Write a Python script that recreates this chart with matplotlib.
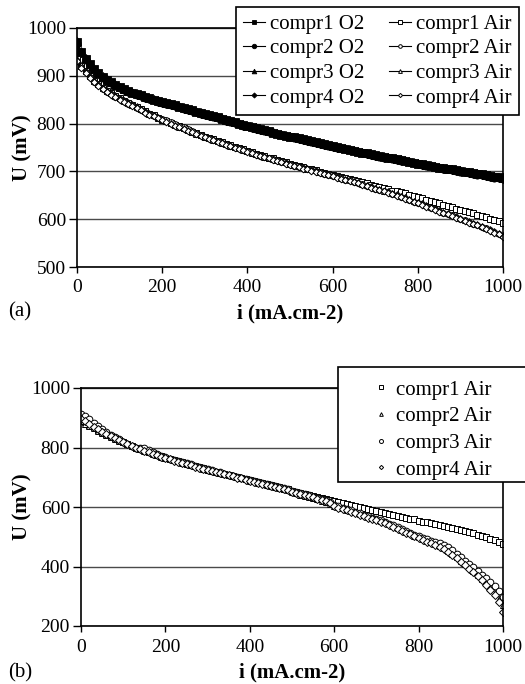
import matplotlib
matplotlib.use("Agg")
import matplotlib.pyplot as plt
from matplotlib.patches import Rectangle

plt.rcParams['font.family'] = ['Liberation Serif', 'DejaVu Serif']

# current density grid (mA.cm-2)
current = list(range(0, 1001, 10))

# ---- panel (a) : O2 ----
compr1_O2_a = [970,950,936,924,914,905,898,892,886,880,
               876,872,868,865,862,859,856,853,850,848,
               845,843,840,838,835,833,830,828,825,823,
               820,818,815,813,810,808,805,803,800,797,
               795,793,790,788,786,784,781,779,777,775,
               773,771,769,767,765,763,761,759,757,755,
               753,751,749,747,745,743,741,739,738,736,
               734,732,731,729,727,725,723,722,720,718,
               716,715,713,711,710,708,707,705,704,702,
               701,699,698,696,695,694,692,691,689,688,686]
compr2_O2_a = [968,947,934,922,912,903,896,890,884,879,
               874,870,866,863,860,857,854,851,849,846,
               844,841,839,836,834,831,829,826,824,821,
               819,816,814,811,809,806,804,801,799,796,
               794,791,789,787,785,782,780,778,776,774,
               772,770,768,766,764,762,760,758,756,754,
               752,750,748,746,744,742,740,738,736,735,
               733,731,729,728,726,724,722,721,719,717,
               716,714,712,711,709,707,706,704,702,701,
               699,698,696,695,693,692,690,689,687,686,684]
compr3_O2_a = [972,951,937,925,915,906,899,893,887,882,
               877,873,869,866,863,860,857,854,851,849,
               846,844,841,839,836,834,831,829,826,824,
               821,819,816,814,811,809,806,804,801,799,
               796,794,792,789,787,785,782,780,778,776,
               774,772,770,768,766,764,762,760,758,756,
               754,752,750,748,746,744,742,740,739,737,
               735,733,732,730,728,726,725,723,721,719,
               718,716,714,713,711,710,708,706,705,703,
               702,700,699,697,696,695,693,692,690,689,688]
compr4_O2_a = [965,948,935,923,913,904,897,891,885,880,
               875,871,867,864,861,858,855,852,850,847,
               845,842,840,837,835,832,830,827,825,822,
               820,817,815,812,810,807,805,802,800,798,
               795,793,791,788,786,784,782,779,777,775,
               773,771,769,767,765,763,761,759,757,755,
               753,751,749,747,745,743,741,739,737,735,
               734,732,730,728,727,725,723,721,720,718,
               716,714,713,711,709,708,706,705,703,702,
               700,699,697,696,694,693,691,690,688,687,685]

# ---- panel (a) : Air ----
compr1_Air_a = [935,921,909,899,890,882,875,869,863,858,
                853,848,844,839,835,830,826,821,817,812,
                808,805,801,797,794,790,787,783,780,776,
                773,770,767,764,761,758,755,752,749,746,
                743,740,737,735,732,729,727,724,721,719,
                716,714,711,709,706,704,702,699,697,694,
                692,690,688,686,684,682,679,677,675,672,
                670,668,665,663,660,658,656,654,651,649,
                647,644,641,639,636,633,630,628,625,622,
                620,617,615,612,609,607,604,601,599,596,593]
compr2_Air_a = [932,919,907,897,888,880,873,867,861,856,
                851,847,842,838,833,829,824,820,816,812,
                809,807,804,800,796,792,788,784,780,777,
                773,770,766,763,760,757,754,751,748,745,
                742,739,736,733,731,728,725,723,720,717,
                715,712,710,707,705,702,700,698,695,693,
                691,688,686,683,681,678,676,673,670,667,
                664,662,659,656,653,650,647,644,641,637,
                634,631,627,624,621,618,614,611,608,604,
                601,598,594,591,588,584,581,577,573,569,564]
compr3_Air_a = [936,922,910,900,891,883,876,870,864,859,
                854,849,845,840,836,831,827,822,818,813,
                809,805,801,797,793,790,786,783,779,776,
                772,769,766,763,760,757,754,751,748,745,
                742,739,737,734,731,729,726,724,721,719,
                716,714,711,709,707,704,702,699,697,695,
                692,690,687,685,682,680,677,674,672,669,
                666,663,660,658,655,652,649,646,643,639,
                636,633,629,626,623,619,616,613,609,606,
                603,599,596,593,589,586,582,579,575,571,566]
compr4_Air_a = [930,917,906,896,887,879,872,866,860,855,
                850,846,841,837,832,828,823,819,815,811,
                807,803,800,796,792,789,785,782,778,775,
                772,768,765,762,759,756,753,750,747,744,
                741,738,735,732,730,727,724,722,719,716,
                714,711,709,706,704,701,699,697,694,692,
                690,687,685,682,680,677,675,672,669,666,
                663,661,658,655,652,649,646,643,640,636,
                633,630,626,623,620,616,613,610,606,603,
                600,597,593,590,587,583,580,576,572,568,562]

# ---- panel (b) : Air ----
compr1_Air_b = [893,885,876,868,860,852,845,838,831,825,
                818,812,806,800,795,790,785,780,775,770,
                766,762,758,754,750,746,742,738,734,730,
                726,722,719,715,712,708,705,701,698,694,
                690,687,683,680,676,673,669,666,662,659,
                655,652,648,645,641,638,634,631,627,624,
                620,617,613,610,606,603,600,597,593,590,
                586,583,580,577,574,570,567,564,561,558,
                554,551,548,545,542,539,536,532,529,526,
                522,519,515,511,507,503,499,494,489,483,476]
compr2_Air_b = [888,880,872,864,857,850,843,836,830,823,
                817,811,805,799,794,789,784,779,774,769,
                765,761,757,753,749,745,741,737,733,729,
                725,721,718,714,711,707,704,700,697,693,
                689,686,682,679,675,672,668,665,661,658,
                650,646,642,638,634,630,626,621,617,611,
                605,600,596,591,587,582,577,572,567,563,
                558,553,548,542,536,530,524,517,511,504,
                498,493,487,482,476,470,462,453,443,432,
                420,409,398,386,373,359,345,329,311,292,270]
compr3_Air_b = [912,905,895,884,872,861,851,842,834,827,
                820,813,806,800,797,798,792,785,778,772,
                767,763,759,755,751,747,743,739,735,731,
                727,723,719,716,712,709,705,702,698,695,
                691,687,684,680,677,673,670,666,663,659,
                655,651,647,643,639,635,631,627,622,618,
                608,603,598,594,589,584,579,574,569,564,
                560,555,550,544,538,532,526,519,513,507,
                501,496,491,486,481,478,473,464,454,443,
                431,420,409,398,386,373,360,347,333,318,296]
compr4_Air_b = [895,888,879,870,861,853,845,838,831,824,
                817,811,805,799,794,789,784,779,774,769,
                765,760,756,752,748,744,740,736,732,728,
                724,720,717,713,710,706,703,699,696,692,
                688,684,681,677,674,670,667,663,660,656,
                652,648,644,640,636,632,627,623,619,614,
                602,598,593,589,584,579,574,569,564,560,
                555,550,545,539,533,527,521,514,508,501,
                495,489,484,478,472,466,458,449,439,428,
                416,405,393,381,368,354,339,322,303,280,248]

labels_O2_a = ['compr1 O2', 'compr2 O2', 'compr3 O2', 'compr4 O2']
labels_Air_a = ['compr1 Air', 'compr2 Air', 'compr3 Air', 'compr4 Air']
labels_Air_b = ['compr1 Air', 'compr2 Air', 'compr3 Air', 'compr4 Air']

xticks = [0, 200, 400, 600, 800, 1000]
yticks_a = [500, 600, 700, 800, 900, 1000]
yticks_b = [200, 400, 600, 800, 1000]

W, H = 525, 684
fig = plt.figure(figsize=(W / 100, H / 100), dpi=100)
ax1 = fig.add_axes([77 / W, 1 - 267 / H, 426 / W, 239 / H])
ax2 = fig.add_axes([81 / W, 1 - 626 / H, 422 / W, 238 / H])

FS = 14
LFS = 15.0

def style(ax, yticks, ylim, left_px):
    ax.set_xlim(0, 1000)
    ax.set_ylim(*ylim)
    ax.set_xticks(xticks)
    ax.set_yticks(yticks)
    ax.yaxis.grid(True, color='#4a4a4a', lw=1.0)
    ax.set_axisbelow(True)
    for s in ax.spines.values():
        s.set_color('black')
        s.set_linewidth(1.2)
    ax.tick_params(axis='x', direction='out', length=4, width=1, labelsize=FS, pad=5)
    ax.tick_params(axis='y', direction='out', length=6, width=1, labelsize=FS, pad=2)
    ax.set_xlabel('i (mA.cm-2)', fontsize=FS + 1, fontweight='bold', labelpad=5)
    ax.set_ylabel('U (mV)', fontsize=FS + 1, fontweight='bold')
    width_px = ax.get_position().width * W
    ax.yaxis.set_label_coords((32 - left_px) / width_px, 0.5)

# panel (a)
o2_series = [compr1_O2_a, compr2_O2_a, compr3_O2_a, compr4_O2_a]
air_series = [compr1_Air_a, compr2_Air_a, compr3_Air_a, compr4_Air_a]
mk_a = ['s', 'o', '^', 'D']
ms_o2 = [5.2, 5.2, 5.4, 4.2]
ms_air = [4.2, 4.2, 4.4, 3.4]
handles_a = []
for ys, lab, m, ms in zip(o2_series, labels_O2_a, mk_a, ms_o2):
    h, = ax1.plot(current, ys, color='black', lw=0.8, marker=m, ms=ms,
                  mfc='black', mec='black', mew=0.6, label=lab)
    handles_a.append(h)
for ys, lab, m, ms in zip(air_series, labels_Air_a, mk_a, ms_air):
    h, = ax1.plot(current, ys, color='black', lw=0.8, marker=m, ms=ms,
                  mfc='white', mec='black', mew=0.7, label=lab)
    handles_a.append(h)
style(ax1, yticks_a, (500, 1000), 77)

leg1 = ax1.legend(handles=handles_a, ncol=2, loc='upper left',
                  bbox_to_anchor=(236 / W, 1 - 7 / H), bbox_transform=fig.transFigure,
                  fontsize=LFS, frameon=True, fancybox=False, edgecolor='black',
                  handlelength=1.05, handletextpad=0.25, columnspacing=1.15,
                  labelspacing=0.24, borderpad=0.35, borderaxespad=0, markerscale=0.62)
leg1.get_frame().set_linewidth(1.2)
leg1.get_frame().set_alpha(1)

# panel (b)
air_b = [compr1_Air_b, compr2_Air_b, compr3_Air_b, compr4_Air_b]
mk_b = ['s', '^', 'o', 'D']
ms_b = [4.4, 4.4, 4.8, 3.6]
handles_b = []
for ys, lab, m, ms in zip(air_b, labels_Air_b, mk_b, ms_b):
    h, = ax2.plot(current, ys, ls='none', marker=m, ms=ms,
                  mfc='white', mec='black', mew=0.7, label=lab)
    handles_b.append(h)
style(ax2, yticks_b, (200, 1000), 81)

# legend box of panel (b)
box_b = Rectangle((338 / W, 1 - 482 / H), (540 - 338) / W, 115 / H,
                  transform=fig.transFigure, facecolor='white', edgecolor='black',
                  lw=1.2, zorder=4.9, clip_on=False)
ax2.add_artist(box_b)
leg2 = ax2.legend(handles=handles_b, loc='upper left',
                  bbox_to_anchor=(371 / W, 1 - 380 / H), bbox_transform=fig.transFigure,
                  fontsize=LFS, frameon=False,
                  handlelength=1.0, handletextpad=0.2, labelspacing=0.34,
                  borderpad=0.0, borderaxespad=0, markerscale=0.6)

fig.text(8 / W, 1 - 312 / H, '(a)', fontsize=FS + 1, va='center', ha='left')
fig.text(8 / W, 1 - 673 / H, '(b)', fontsize=FS + 1, va='center', ha='left')

fig.savefig('out.png', dpi=100, facecolor='white')
